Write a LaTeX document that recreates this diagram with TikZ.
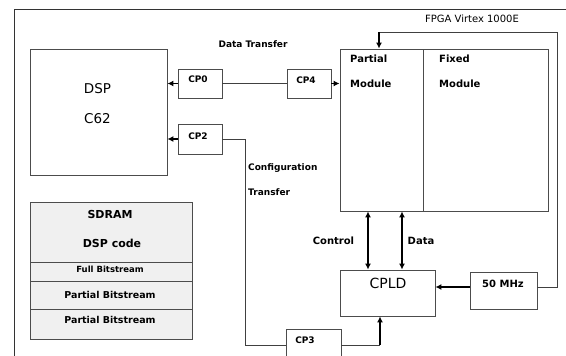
\documentclass[tikz,border=0pt]{standalone}
\usepackage{fontspec}
\setmainfont{DejaVu Sans}
\usetikzlibrary{arrows.meta}

\begin{document}
\begin{tikzpicture}[x=1pt,y=-1pt,
    blk/.style={draw=black!70, line width=0.9pt, inner sep=0pt},
    mem/.style={blk, fill=black!6, minimum width=162pt},
    wire/.style={draw=black!75, line width=0.9pt},
    arr/.style={draw=black, line width=1.7pt},
    >={Latex[length=6pt,width=6pt]},
    txt/.style={anchor=base, inner sep=0pt, font=\fontsize{9}{10}\selectfont\bfseries},
    big/.style={anchor=base, inner sep=0pt, font=\fontsize{13.5}{15}\selectfont}]
  \useasboundingbox (0,0) rectangle (566,356);
  % frame of the board
  \draw[black!80, line width=1pt] (566,9) -- (14,9) -- (14,356);

  % DSP side
  \node[blk, minimum width=137pt, minimum height=126pt] (dsp) at (98.5,112) {};
  \node[big] at (97.5,93) {DSP};
  \node[big] at (97.5,123) {C62};
  \node[blk, minimum width=44pt, minimum height=29pt] (cp0) at (200,83.5) {};
  \node[txt] at (198,82) {CP0};
  \node[blk, minimum width=44pt, minimum height=30pt] (cp2) at (200,139) {};
  \node[txt] at (198,139) {CP2};
  \node[blk, minimum width=44pt, minimum height=29pt] (cp4) at (309,83.5) {};
  \node[txt] at (306,83) {CP4};
  \node[txt] at (253,47) {Data Transfer};

  % FPGA
  \node[blk, minimum width=83pt, minimum height=162pt] (pm) at (381.5,130) {};
  \node[blk, minimum width=125pt, minimum height=162pt] (fm) at (485.5,130) {};
  \node[txt, anchor=base west, font=\fontsize{10}{12}\selectfont\bfseries] at (350,63) {Partial};
  \node[txt, anchor=base west, font=\fontsize{10}{12}\selectfont\bfseries] at (350,87) {Module};
  \node[txt, anchor=base west, font=\fontsize{10}{12}\selectfont\bfseries] at (439,63) {Fixed};
  \node[txt, anchor=base west, font=\fontsize{10}{12}\selectfont\bfseries] at (439,87) {Module};
  \node[txt, font=\fontsize{10}{12}\selectfont] at (472,23) {FPGA Virtex 1000E};

  % CPLD and clock
  \node[blk, minimum width=95pt, minimum height=46pt] (cpld) at (387.5,293) {};
  \node[big, font=\fontsize{14}{16}\selectfont] at (388,288) {CPLD};
  \node[blk, minimum width=67pt, minimum height=37pt] (mhz) at (503.5,290.5) {};
  \node[txt, font=\fontsize{10}{12}\selectfont\bfseries] at (503,287) {50 MHz};
  \node[blk, minimum width=55pt, minimum height=32pt] (cp3) at (313.5,345) {};
  \node[txt] at (305,343) {CP3};
  \node[txt, anchor=base west] at (248,170) {Configuration};
  \node[txt, anchor=base west] at (248,195) {Transfer};
  \node[txt, font=\fontsize{10}{12}\selectfont\bfseries] at (333.5,244) {Control};
  \node[txt, font=\fontsize{10}{12}\selectfont\bfseries] at (421,244) {Data};

  % SDRAM contents
  \node[mem, minimum height=60pt] (sdram) at (111,232) {};
  \node[mem, minimum height=19pt] (full) at (111,271.5) {};
  \node[mem, minimum height=28pt] (part1) at (111,295) {};
  \node[mem, minimum height=30pt] (part2) at (111,324) {};
  \node[txt, font=\fontsize{11}{13}\selectfont\bfseries] at (110,218) {SDRAM};
  \node[txt, font=\fontsize{11}{13}\selectfont\bfseries] at (112,247) {DSP code};
  \node[txt, font=\fontsize{8.5}{10}\selectfont\bfseries] at (110,272) {Full Bitstream};
  \node[txt, font=\fontsize{9.5}{11}\selectfont\bfseries] at (110,298) {Partial Bitstream};
  \node[txt, font=\fontsize{9.5}{11}\selectfont\bfseries] at (110,323) {Partial Bitstream};

  % connections
  \coordinate (turn) at (557,32);
  \coordinate (clk) at (379,32);
  \coordinate (cpin) at (380,345);
  \draw[wire] (cp0.east) -- (cp4.west);
  \draw[arr,->] (cp0.west) -- (cp0.west -| dsp.east);
  \draw[arr,->] (cp2.west) -- (cp2.west -| dsp.east);
  \draw[arr,->] (cp4.east) -- (cp4.east -| pm.west);
  \draw[wire] (cp2.east) -- ++(23,0) |- (cp3.west);
  \draw[wire] (cp3.east) -- (cpin);
  \draw[arr,->] (cpin) -- (cpin |- cpld.south);
  \draw[arr,->] ([yshift=3.5pt]mhz.west) -- ([yshift=3.5pt]mhz.west -| cpld.east);
  \draw[wire] ([yshift=3.5pt]mhz.east) -| (turn) -- (clk);
  \draw[arr,->] (clk) -- (clk |- pm.north);
  \draw[arr,<->] ([xshift=-19.5pt]cpld.north) -- ([xshift=-19.5pt]cpld.north |- pm.south);
  \draw[arr,<->] ([xshift=14.5pt]cpld.north) -- ([xshift=14.5pt]cpld.north |- pm.south);
\end{tikzpicture}
\end{document}
